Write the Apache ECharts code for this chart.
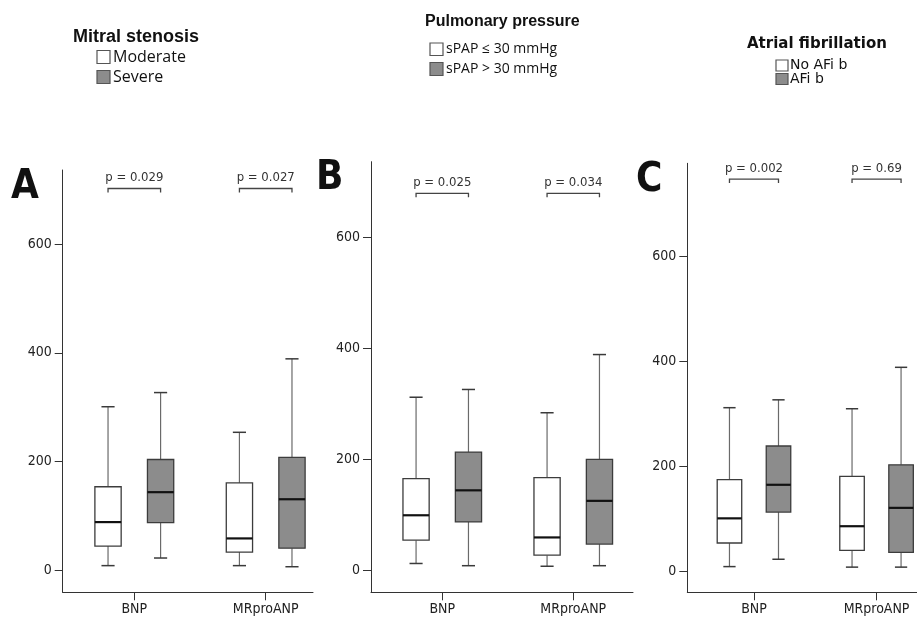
<!DOCTYPE html>
<html>
<head>
<meta charset="utf-8">
<script src="https://cdn.jsdelivr.net/npm/echarts@6/dist/echarts.min.js"></script>
<style>
html,body{margin:0;padding:0;background:#fff;}
#chart{width:917px;height:617px;}
</style>
</head>
<body>
<div id="chart"></div>
<script>
// ---------- data ----------
const categories = ['BNP', 'MRproANP'];
const yTickValues = [0, 200, 400, 600];
// each row: [low whisker, Q1, median, Q3, high whisker] for BNP then MRproANP
const mitralModerate = [[9, 45, 89, 154, 301], [9, 34, 59, 161, 254]];
const mitralSevere   = [[23, 88, 144, 204, 327], [7, 41, 131, 208, 389]];
const spapLow  = [[12, 54, 99, 165, 312], [7, 27, 59, 167, 284]];
const spapHigh = [[8, 87, 144, 213, 326], [8, 47, 125, 200, 389]];
const noAfib = [[9, 54, 101, 175, 312], [8, 40, 86, 181, 310]];
const afib   = [[23, 113, 165, 239, 327], [8, 36, 121, 203, 389]];
const pValuesA = ['p = 0.029', 'p = 0.027'];
const pValuesB = ['p = 0.025', 'p = 0.034'];
const pValuesC = ['p = 0.002', 'p = 0.69'];
const panelLetters = ['A', 'B', 'C'];
const legendTitles = ['Mitral stenosis', 'Pulmonary pressure', 'Atrial fibrillation'];
const legendMitral = ['Moderate', 'Severe'];
const legendSpap = ['sPAP \u2264 30 mmHg', 'sPAP > 30 mmHg'];
const legendAfib = ['No AFi b', 'AFi b'];

// ---------- layout / style ----------
const NARROW = '"Liberation Sans Narrow","DejaVu Sans Condensed","Arial Narrow",sans-serif';
const WHITE = '#ffffff', GRAY = '#8c8c8c';
const panels = [
  {left: 62.7, top: 170, right: 313, bottom: 592.3, yMax: 736, xMin: 0.455, xMax: 2.36, bracket: 702,
   groups: [mitralModerate, mitralSevere], p: pValuesA},
  {left: 371, top: 161.7, right: 633, bottom: 592.3, yMax: 737, xMin: 0.456, xMax: 2.456, bracket: 680,
   groups: [spapLow, spapHigh], p: pValuesB},
  {left: 687.3, top: 163.3, right: 917, bottom: 592.3, yMax: 778, xMin: 0.456, xMax: 2.33, bracket: 748,
   groups: [noAfib, afib], p: pValuesC}
];
const OFFSET = 0.2, BOX_W = 0.2;

const grids = [], xAxes = [], yAxes = [], series = [];
panels.forEach((pn, i) => {
  grids.push({left: pn.left, top: pn.top, width: pn.right - pn.left, height: pn.bottom - pn.top});
  xAxes.push({
    type: 'value', gridIndex: i, min: pn.xMin, max: pn.xMax,
    axisLine: {show: true, onZero: false, lineStyle: {color: '#333', width: 1}},
    axisTick: {show: true, customValues: [1, 2], length: 8, lineStyle: {color: '#333'}},
    axisLabel: {customValues: [1, 2], margin: 10, color: '#222', fontSize: 14, fontFamily: NARROW,
      formatter: v => categories[Math.round(v) - 1] || ''},
    splitLine: {show: false}
  });
  yAxes.push({
    type: 'value', gridIndex: i, min: -40, max: pn.yMax,
    axisLine: {show: true, onZero: false, lineStyle: {color: '#333', width: 1}},
    axisTick: {show: true, customValues: yTickValues, length: 8, lineStyle: {color: '#333'}},
    axisLabel: {customValues: yTickValues, margin: 11, color: '#222', fontSize: 14, fontFamily: NARROW},
    splitLine: {show: false}
  });
  pn.groups.forEach((grp, g) => {
    const off = g === 0 ? -OFFSET : OFFSET;
    const fill = g === 0 ? WHITE : GRAY;
    series.push({
      type: 'custom', xAxisIndex: i, yAxisIndex: i, clip: false,
      data: grp.map((r, k) => [k].concat(r)),
      renderItem: function (params, api) {
        const x = api.value(0) + 1 + off;
        const low = api.coord([x, api.value(1)]);
        const q1 = api.coord([x, api.value(2)]);
        const med = api.coord([x, api.value(3)]);
        const q3 = api.coord([x, api.value(4)]);
        const high = api.coord([x, api.value(5)]);
        const hw = api.size([BOX_W, 0])[0] / 2;
        const cx = low[0];
        const wStyle = {stroke: '#6a6a6a', lineWidth: 1.2};
        const capStyle = {stroke: '#3a3a3a', lineWidth: 1.5};
        return {type: 'group', children: [
          {type: 'line', shape: {x1: cx, y1: high[1], x2: cx, y2: q3[1]}, style: wStyle},
          {type: 'line', shape: {x1: cx, y1: q1[1], x2: cx, y2: low[1]}, style: wStyle},
          {type: 'line', shape: {x1: cx - hw / 2, y1: high[1], x2: cx + hw / 2, y2: high[1]}, style: capStyle},
          {type: 'line', shape: {x1: cx - hw / 2, y1: low[1], x2: cx + hw / 2, y2: low[1]}, style: capStyle},
          {type: 'rect', shape: {x: cx - hw, y: q3[1], width: 2 * hw, height: q1[1] - q3[1]},
            style: {fill: fill, stroke: '#3c3c3c', lineWidth: 1.3}},
          {type: 'line', shape: {x1: cx - hw, y1: med[1], x2: cx + hw, y2: med[1]}, style: {stroke: '#111', lineWidth: 2.2}}
        ]};
      }
    });
  });
  // significance brackets
  series.push({
    type: 'custom', xAxisIndex: i, yAxisIndex: i, clip: false,
    data: pn.p.map((t, k) => [k, pn.bracket]),
    renderItem: function (params, api) {
      const k = api.value(0);
      const l = api.coord([k + 1 - OFFSET, api.value(1)]);
      const r = api.coord([k + 1 + OFFSET, api.value(1)]);
      return {type: 'group', children: [
        {type: 'polyline', shape: {points: [[l[0], l[1] + 4], [l[0], l[1]], [r[0], r[1]], [r[0], r[1] + 4]]},
          style: {stroke: '#444', lineWidth: 1.3, fill: null}},
        {type: 'text', style: {text: pn.p[k], x: (l[0] + r[0]) / 2, y: l[1] - 10.5,
          font: '13px ' + NARROW, fill: '#333', align: 'center', verticalAlign: 'middle',
          textAlign: 'center', textVerticalAlign: 'middle'}}
      ]};
    }
  });
});

function txt(x, y, text, font, align) {
  return {type: 'text', x: x, y: y, style: {text: text, font: font, fill: '#111',
    align: align || 'left', verticalAlign: 'middle', textAlign: align || 'left', textVerticalAlign: 'middle'}};
}
function box(x, y, w, h, fill) {
  return {type: 'rect', shape: {x: x, y: y, width: w, height: h},
    style: {fill: fill, stroke: '#555', lineWidth: 1.2}};
}
const LETTER_FONT = 'bold 40px ' + NARROW;
const graphics = [
  txt(11, 188, panelLetters[0], LETTER_FONT),
  txt(316, 179, panelLetters[1], LETTER_FONT),
  txt(636, 181, panelLetters[2], LETTER_FONT),
  // Mitral stenosis legend
  txt(73, 37, legendTitles[0], 'bold 18px "Liberation Sans",Arial,sans-serif'),
  box(97, 50.5, 13, 13, WHITE), txt(113, 57, legendMitral[0], '16px "Open Sans",sans-serif'),
  box(97, 70.5, 13, 13, GRAY), txt(113, 77, legendMitral[1], '16px "Open Sans",sans-serif'),
  // Pulmonary pressure legend
  txt(425, 22, legendTitles[1], 'bold 16px "Liberation Sans",Arial,sans-serif'),
  box(430, 43, 13, 12.5, WHITE), txt(446, 49, legendSpap[0], '14px "Open Sans",sans-serif'),
  box(430, 62.5, 13, 13, GRAY), txt(446, 69.5, legendSpap[1], '14px "Open Sans",sans-serif'),
  // Atrial fibrillation legend
  txt(747, 44, legendTitles[2], 'bold 15px "DejaVu Sans",sans-serif'),
  box(776, 60, 12, 11, WHITE), txt(790, 65.5, legendAfib[0], '14px "DejaVu Sans",sans-serif'),
  box(776, 73.5, 12, 11, GRAY), txt(790, 79.5, legendAfib[1], '14px "DejaVu Sans",sans-serif')
];

const chart = echarts.init(document.getElementById('chart'), null, {renderer: 'canvas'});
chart.setOption({
  animation: false,
  backgroundColor: '#fff',
  grid: grids,
  xAxis: xAxes,
  yAxis: yAxes,
  series: series,
  graphic: graphics
});
</script>
</body>
</html>
